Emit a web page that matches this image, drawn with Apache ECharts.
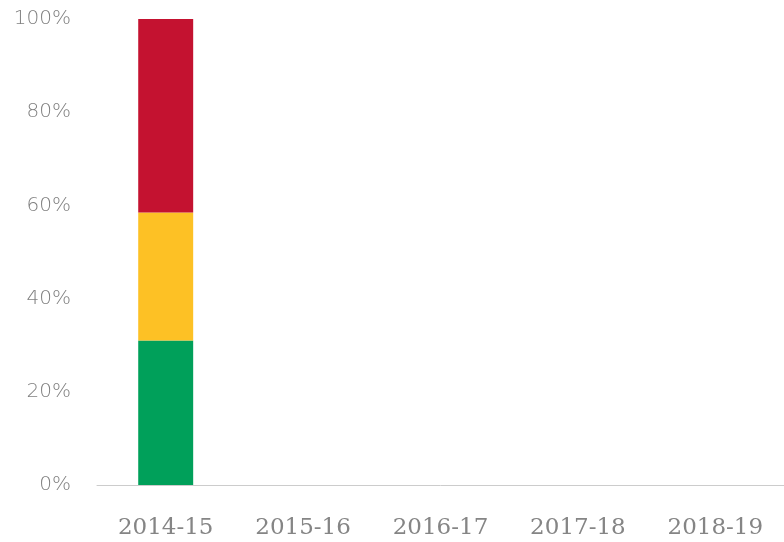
<!DOCTYPE html>
<html>
<head>
<meta charset="utf-8">
<script src="https://cdn.jsdelivr.net/npm/echarts@6/dist/echarts.min.js"></script>
<style>
  html, body { margin: 0; padding: 0; background: #fff; }
  #chart { width: 784px; height: 542px; }
</style>
</head>
<body>
<div id="chart"></div>
<script>
const years = ['2014-15', '2015-16', '2016-17', '2017-18', '2018-19'];
const greenVals = [31, null, null, null, null];
const amberVals = [27.5, null, null, null, null];
const redVals = [41.5, null, null, null, null];
const yTicks = [0, 20, 40, 60, 80, 100];

const colors = ['#00A05A', '#FDC125', '#C41230'];

const chart = echarts.init(document.getElementById('chart'));
const mkSeries = (name, data, i) => ({
    name,
    type: 'bar',
    stack: 'total',
    data,
    barWidth: '40%',
    itemStyle: { color: colors[i] },
    emphasis: { disabled: true }
});
chart.setOption({
    animation: false,
    grid: {
        left: 97,
        right: 0,
        top: 19,
        bottom: 57
    },
    xAxis: {
        type: 'category',
        data: years,
        axisLine: { lineStyle: { color: '#cccccc', width: 1 } },
        axisTick: { show: false },
        axisLabel: {
            margin: 32,
            color: '#858585',
            fontFamily: 'DejaVu Serif',
            fontSize: 23
        }
    },
    yAxis: {
        type: 'value',
        min: yTicks[0],
        max: yTicks[yTicks.length - 1],
        interval: 20,
        splitLine: { show: false },
        axisLine: { show: false },
        axisTick: { show: false },
        axisLabel: {
            margin: 26,
            color: '#808080',
            fontFamily: 'DejaVu Sans',
            fontWeight: 200,
            fontSize: 20,
            formatter: (v) => v + '%'
        }
    },
    series: [
        mkSeries('Green', greenVals, 0),
        mkSeries('Amber', amberVals, 1),
        mkSeries('Red', redVals, 2)
    ]
});
</script>
</body>
</html>
